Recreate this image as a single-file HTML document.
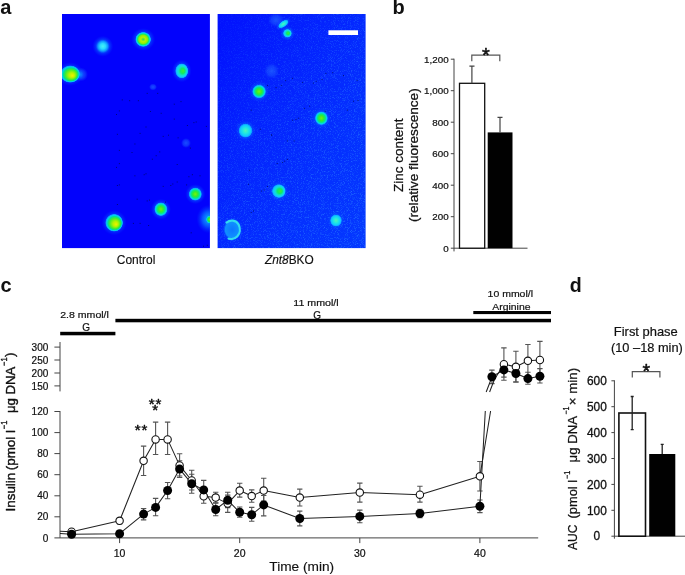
<!DOCTYPE html>
<html><head><meta charset="utf-8"><title>Figure</title>
<style>
html,body{margin:0;padding:0;background:#fff;}
body{width:685px;height:575px;overflow:hidden;}
svg{display:block;}
text{font-family:"Liberation Sans",sans-serif;fill:#111;stroke:#111;stroke-width:0.4px;stroke-linejoin:round;}
</style></head><body>
<svg width="685" height="575" viewBox="0 0 685 575">
<defs>
<radialGradient id="gHalo"><stop offset="0" stop-color="#10a8ff" stop-opacity="0.95"/><stop offset="0.5" stop-color="#0a78ff" stop-opacity="0.7"/><stop offset="1" stop-color="#0040ff" stop-opacity="0"/></radialGradient>
<radialGradient id="gHot"><stop offset="0" stop-color="#38e048"/><stop offset="0.3" stop-color="#b8f400"/><stop offset="0.55" stop-color="#88f008"/><stop offset="0.7" stop-color="#18e860"/><stop offset="0.82" stop-color="#00dce0"/><stop offset="0.92" stop-color="#08a8ff"/><stop offset="1" stop-color="#0870ff" stop-opacity="0"/></radialGradient>
<radialGradient id="gHot2" fx="0.62" fy="0.6"><stop offset="0" stop-color="#f0f000"/><stop offset="0.3" stop-color="#b0f400"/><stop offset="0.58" stop-color="#40ec30"/><stop offset="0.74" stop-color="#00e090"/><stop offset="0.84" stop-color="#00d0f0"/><stop offset="0.93" stop-color="#08a0ff"/><stop offset="1" stop-color="#0870ff" stop-opacity="0"/></radialGradient>
<radialGradient id="gGreen"><stop offset="0" stop-color="#78f010"/><stop offset="0.36" stop-color="#34ec2c"/><stop offset="0.6" stop-color="#08e880"/><stop offset="0.78" stop-color="#00d8e8"/><stop offset="0.9" stop-color="#08a0ff"/><stop offset="1" stop-color="#0870ff" stop-opacity="0"/></radialGradient>
<radialGradient id="gGreenR" fx="0.62" fy="0.5"><stop offset="0" stop-color="#40ec30"/><stop offset="0.35" stop-color="#10e868"/><stop offset="0.6" stop-color="#10e0d0"/><stop offset="0.8" stop-color="#10c8ff"/><stop offset="0.92" stop-color="#08a0ff"/><stop offset="1" stop-color="#0870ff" stop-opacity="0"/></radialGradient>
<radialGradient id="gCyan"><stop offset="0" stop-color="#50f4b8"/><stop offset="0.4" stop-color="#20e8e0"/><stop offset="0.75" stop-color="#10c8ff"/><stop offset="0.9" stop-color="#08a0ff"/><stop offset="1" stop-color="#0870ff" stop-opacity="0"/></radialGradient>
<radialGradient id="gSoft"><stop offset="0" stop-color="#48f0f8"/><stop offset="0.4" stop-color="#28d8ff"/><stop offset="0.7" stop-color="#10a0ff" stop-opacity="0.9"/><stop offset="1" stop-color="#0860ff" stop-opacity="0"/></radialGradient>
<radialGradient id="gRingIn"><stop offset="0" stop-color="#0c78ff"/><stop offset="0.8" stop-color="#1090ff"/><stop offset="1" stop-color="#0c70ff" stop-opacity="0"/></radialGradient>
<radialGradient id="gFaint"><stop offset="0" stop-color="#2060ff" stop-opacity="0.8"/><stop offset="0.6" stop-color="#1850ff" stop-opacity="0.6"/><stop offset="1" stop-color="#1040ff" stop-opacity="0"/></radialGradient>
<filter id="bl" x="-30%" y="-30%" width="160%" height="160%"><feGaussianBlur stdDeviation="0.7"/></filter>
<linearGradient id="bgR" x1="0" y1="0" x2="1" y2="1"><stop offset="0" stop-color="#0210fe"/><stop offset="0.35" stop-color="#0422fe"/><stop offset="0.7" stop-color="#0430ff"/><stop offset="1" stop-color="#0438ff"/></linearGradient>
<filter id="noise" x="0" y="0" width="100%" height="100%"><feTurbulence type="fractalNoise" baseFrequency="1.3" numOctaves="1" seed="7" result="n"/><feColorMatrix in="n" type="matrix" values="0 0 0 0 0.04  0 0 0 0 0.34  0 0 0 0 1  0 1.8 0 0 -0.9"/></filter>
<linearGradient id="mg" x1="0" y1="0" x2="1" y2="1"><stop offset="0" stop-color="#fff" stop-opacity="0.15"/><stop offset="0.5" stop-color="#fff" stop-opacity="0.7"/><stop offset="1" stop-color="#fff" stop-opacity="1"/></linearGradient>
<mask id="mk"><rect x="217.6" y="14" width="148" height="234.1" fill="url(#mg)"/></mask>
<clipPath id="cl"><rect x="62" y="14" width="148" height="234"/></clipPath>
<clipPath id="cr"><rect x="217.6" y="14" width="148" height="234"/></clipPath>
</defs>
<rect x="62" y="14" width="147.9" height="234.1" fill="#0202fc"/>
<rect x="217.6" y="14" width="148" height="234.1" fill="url(#bgR)"/>
<g mask="url(#mk)"><rect x="217.6" y="14" width="148" height="234.1" filter="url(#noise)"/></g>
<g clip-path="url(#cl)">
<ellipse cx="102.8" cy="46.3" rx="10.5" ry="10.5" fill="url(#gHalo)"/>
<ellipse cx="102.8" cy="46.3" rx="7" ry="7" fill="url(#gSoft)"/>
<ellipse cx="143.2" cy="39.4" rx="12.0" ry="11.4" fill="url(#gHalo)"/>
<ellipse cx="143.2" cy="39.4" rx="8" ry="7.6" fill="url(#gHot)"/>
<ellipse cx="81" cy="74.5" rx="7" ry="7" fill="url(#gFaint)"/>
<ellipse cx="80" cy="74.5" rx="4.5" ry="5" fill="url(#gHalo)"/>
<ellipse cx="70.2" cy="74" rx="13.5" ry="11.9" fill="url(#gHalo)"/>
<ellipse cx="70.2" cy="74" rx="10" ry="8.8" fill="url(#gHot2)"/>
<ellipse cx="181.7" cy="70.9" rx="9.9" ry="11.4" fill="url(#gHalo)"/>
<ellipse cx="181.7" cy="70.9" rx="6.6" ry="7.6" fill="url(#gGreenR)"/>
<ellipse cx="195.3" cy="194.1" rx="10.1" ry="10.1" fill="url(#gHalo)"/>
<ellipse cx="195.3" cy="194.1" rx="6.7" ry="6.7" fill="url(#gGreen)"/>
<ellipse cx="160.9" cy="209.2" rx="10.1" ry="10.5" fill="url(#gHalo)"/>
<ellipse cx="160.9" cy="209.2" rx="6.7" ry="7.0" fill="url(#gGreen)"/>
<ellipse cx="114.1" cy="222.7" rx="12.6" ry="12.6" fill="url(#gHalo)"/>
<ellipse cx="114.1" cy="222.7" rx="9.0" ry="9.0" fill="url(#gHot2)"/>
<ellipse cx="208.5" cy="219" rx="12.0" ry="14.2" fill="url(#gHalo)"/>
<ellipse cx="208.5" cy="219" rx="8" ry="9.5" fill="url(#gHalo)"/>
<ellipse cx="209.5" cy="219.5" rx="3.6" ry="4.2" fill="url(#gGreen)"/>
<ellipse cx="153" cy="87" rx="4" ry="3.5" fill="url(#gFaint)"/>
<ellipse cx="186" cy="143" rx="5" ry="5" fill="url(#gFaint)"/>
</g>
<g clip-path="url(#cr)">
<ellipse cx="276" cy="20" rx="8" ry="7" fill="url(#gFaint)"/>
<ellipse cx="271.6" cy="71" rx="7.5" ry="8" fill="url(#gFaint)"/>
<ellipse cx="283.3" cy="24" rx="9.0" ry="4.5" fill="url(#gHalo)" transform="rotate(-35 283.3 24)"/>
<ellipse cx="283.3" cy="24" rx="6" ry="3" fill="url(#gCyan)" transform="rotate(-35 283.3 24)"/>
<ellipse cx="287.4" cy="33.3" rx="7.5" ry="7.5" fill="url(#gHalo)"/>
<ellipse cx="287.4" cy="33.3" rx="4.4" ry="4.4" fill="url(#gGreenR)"/>
<ellipse cx="259.1" cy="91.5" rx="10.5" ry="10.5" fill="url(#gHalo)"/>
<ellipse cx="259.1" cy="91.5" rx="7.0" ry="7.0" fill="url(#gGreen)"/>
<ellipse cx="321.4" cy="118.2" rx="9.9" ry="10.5" fill="url(#gHalo)"/>
<ellipse cx="321.4" cy="118.2" rx="6.6" ry="7.0" fill="url(#gGreen)"/>
<ellipse cx="245.5" cy="130.6" rx="10.5" ry="10.8" fill="url(#gHalo)"/>
<ellipse cx="245.5" cy="130.6" rx="7.0" ry="7.2" fill="url(#gCyan)"/>
<ellipse cx="278.8" cy="191.1" rx="10.2" ry="10.2" fill="url(#gHalo)"/>
<ellipse cx="278.8" cy="191.1" rx="7" ry="7" fill="url(#gGreenR)"/>
<ellipse cx="336" cy="220.5" rx="8.7" ry="9.0" fill="url(#gHalo)"/>
<ellipse cx="336" cy="220.5" rx="6" ry="6.2" fill="url(#gCyan)"/>
<ellipse cx="232.2" cy="229.6" rx="11.2" ry="12.7" fill="url(#gHalo)"/>
<ellipse cx="232.2" cy="229.6" rx="8.6" ry="9.8" fill="url(#gRingIn)"/>
<path d="M226.5 222.6C230 219.6 236 219.8 238.6 224.5C240.6 228.5 240.2 233.5 237.2 236.6C235 238.8 231.5 239.4 228.6 238.6" fill="none" stroke="#30dcf0" stroke-width="2.2" stroke-linecap="round" filter="url(#bl)"/>
</g>
<g fill="#000850" opacity="0.75"><rect x="121.8" y="99.4" width="1" height="1"/><rect x="129.1" y="100.2" width="1" height="1"/><rect x="137.9" y="100.2" width="1" height="1"/><rect x="146.7" y="92.9" width="1" height="1"/><rect x="157.2" y="92.9" width="1" height="1"/><rect x="118.9" y="110.4" width="1" height="1"/><rect x="116.0" y="114.0" width="1" height="1"/><rect x="149.9" y="111.0" width="1" height="1"/><rect x="160.7" y="112.8" width="1" height="1"/><rect x="173.8" y="103.7" width="1" height="1"/><rect x="180.5" y="101.1" width="1" height="1"/><rect x="173.8" y="118.6" width="1" height="1"/><rect x="145.5" y="126.5" width="1" height="1"/><rect x="116.9" y="133.8" width="1" height="1"/><rect x="139.6" y="132.9" width="1" height="1"/><rect x="162.7" y="135.9" width="1" height="1"/><rect x="168.0" y="134.7" width="1" height="1"/><rect x="177.6" y="137.3" width="1" height="1"/><rect x="186.9" y="125.0" width="1" height="1"/><rect x="193.4" y="122.1" width="1" height="1"/><rect x="195.7" y="121.5" width="1" height="1"/><rect x="205.9" y="125.9" width="1" height="1"/><rect x="134.4" y="143.5" width="1" height="1"/><rect x="118.9" y="149.9" width="1" height="1"/><rect x="131.5" y="152.0" width="1" height="1"/><rect x="159.2" y="151.4" width="1" height="1"/><rect x="155.7" y="155.2" width="1" height="1"/><rect x="151.9" y="158.7" width="1" height="1"/><rect x="189.9" y="147.6" width="1" height="1"/><rect x="176.7" y="164.0" width="1" height="1"/><rect x="118.9" y="163.1" width="1" height="1"/><rect x="116.0" y="166.9" width="1" height="1"/><rect x="134.4" y="175.3" width="1" height="1"/><rect x="143.7" y="174.2" width="1" height="1"/><rect x="145.5" y="173.3" width="1" height="1"/><rect x="188.4" y="176.2" width="1" height="1"/><rect x="191.9" y="174.2" width="1" height="1"/><rect x="199.5" y="175.3" width="1" height="1"/><rect x="116.9" y="185.0" width="1" height="1"/><rect x="118.9" y="184.4" width="1" height="1"/><rect x="162.7" y="185.9" width="1" height="1"/><rect x="170.3" y="185.0" width="1" height="1"/><rect x="172.3" y="183.5" width="1" height="1"/><rect x="176.7" y="181.5" width="1" height="1"/><rect x="186.1" y="184.4" width="1" height="1"/><rect x="116.9" y="204.0" width="1" height="1"/><rect x="136.7" y="198.7" width="1" height="1"/><rect x="146.7" y="200.4" width="1" height="1"/><rect x="149.0" y="199.6" width="1" height="1"/><rect x="165.0" y="201.6" width="1" height="1"/><rect x="132.9" y="222.9" width="1" height="1"/><rect x="139.6" y="222.9" width="1" height="1"/><rect x="148.1" y="225.0" width="1" height="1"/><rect x="190.7" y="232.3" width="1" height="1"/><rect x="203.0" y="245.7" width="1" height="1"/><rect x="206.8" y="244.8" width="1" height="1"/><rect x="267.0" y="84.9" width="1" height="1"/><rect x="275.6" y="87.1" width="1" height="1"/><rect x="280.8" y="84.9" width="1" height="1"/><rect x="285.1" y="80.1" width="1" height="1"/><rect x="291.9" y="77.8" width="1" height="1"/><rect x="302.1" y="81.9" width="1" height="1"/><rect x="312.9" y="82.6" width="1" height="1"/><rect x="315.7" y="80.8" width="1" height="1"/><rect x="321.5" y="79.0" width="1" height="1"/><rect x="325.4" y="72.9" width="1" height="1"/><rect x="332.2" y="72.2" width="1" height="1"/><rect x="343.0" y="75.1" width="1" height="1"/><rect x="356.6" y="80.1" width="1" height="1"/><rect x="250.7" y="109.7" width="1" height="1"/><rect x="259.8" y="128.8" width="1" height="1"/><rect x="271.1" y="134.6" width="1" height="1"/><rect x="292.1" y="119.7" width="1" height="1"/><rect x="295.5" y="118.8" width="1" height="1"/><rect x="298.2" y="117.7" width="1" height="1"/><rect x="303.9" y="107.9" width="1" height="1"/><rect x="309.1" y="105.7" width="1" height="1"/><rect x="324.7" y="110.7" width="1" height="1"/><rect x="346.9" y="109.7" width="1" height="1"/><rect x="353.0" y="100.7" width="1" height="1"/><rect x="357.5" y="100.0" width="1" height="1"/><rect x="271.1" y="134.5" width="1" height="1"/><rect x="286.9" y="140.4" width="1" height="1"/><rect x="293.7" y="140.4" width="1" height="1"/><rect x="276.7" y="163.0" width="1" height="1"/><rect x="281.9" y="161.9" width="1" height="1"/><rect x="284.2" y="160.7" width="1" height="1"/><rect x="286.9" y="158.9" width="1" height="1"/><rect x="248.9" y="169.8" width="1" height="1"/><rect x="248.0" y="183.8" width="1" height="1"/><rect x="260.9" y="190.6" width="1" height="1"/><rect x="263.8" y="189.5" width="1" height="1"/><rect x="267.0" y="186.1" width="1" height="1"/><rect x="250.7" y="212.1" width="1" height="1"/><rect x="253.0" y="210.5" width="1" height="1"/></g>
<rect x="328.4" y="30.3" width="29.6" height="4.7" fill="#fff"/>
<g id="ink" opacity="0.999">
<text x="116.8" y="263.6" font-size="12" text-anchor="start" textLength="38.6" lengthAdjust="spacingAndGlyphs" style="stroke-width:0.15px">Control</text>
<text x="264.9" y="263.6" font-size="12.3" text-anchor="start" textLength="48.8" lengthAdjust="spacingAndGlyphs" style="stroke-width:0.15px"><tspan font-style="italic">Znt8</tspan>BKO</text>
<text x="0.2" y="14.3" font-size="20" text-anchor="start" font-weight="bold" fill="#000" style="stroke:none">a</text>
<text x="392.6" y="14.1" font-size="20" text-anchor="start" font-weight="bold" fill="#000" style="stroke:none">b</text>
<text x="0.4" y="292.2" font-size="20" text-anchor="start" font-weight="bold" fill="#000" style="stroke:none">c</text>
<text x="569.7" y="292.1" font-size="19.6" text-anchor="start" font-weight="bold" fill="#000" style="stroke:none">d</text>
<g stroke="#444" stroke-width="1.0" fill="none">
<path d="M454.0 58.7V251.39999999999998"/>
<path d="M450.8 248.2H527.5"/>
<path d="M450.8 216.7H454.0"/>
<path d="M450.8 185.2H454.0"/>
<path d="M450.8 153.7H454.0"/>
<path d="M450.8 122.2H454.0"/>
<path d="M450.8 90.7H454.0"/>
<path d="M450.8 59.2H454.0"/>
</g>
<text x="448.6" y="251.7" font-size="9.8" text-anchor="end" style="stroke-width:0.22px">0</text>
<text x="448.6" y="220.2" font-size="9.8" text-anchor="end" style="stroke-width:0.22px">200</text>
<text x="448.6" y="188.7" font-size="9.8" text-anchor="end" style="stroke-width:0.22px">400</text>
<text x="448.6" y="157.2" font-size="9.8" text-anchor="end" style="stroke-width:0.22px">600</text>
<text x="448.6" y="125.7" font-size="9.8" text-anchor="end" style="stroke-width:0.22px">800</text>
<text x="448.6" y="94.2" font-size="9.8" text-anchor="end" style="stroke-width:0.22px">1,000</text>
<text x="448.6" y="62.7" font-size="9.8" text-anchor="end" style="stroke-width:0.22px">1,200</text>
<rect x="459.5" y="83.3" width="25.2" height="164.9" fill="#fff" stroke="#111" stroke-width="1.3"/>
<rect x="487.7" y="132.4" width="24.8" height="115.8" fill="#000"/>
<path d="M471.9 83.3V66.1M469.4 66.1H474.5" stroke="#444" stroke-width="1.2" fill="none"/>
<path d="M500 132.4V117.3M497.5 117.3H502.5" stroke="#444" stroke-width="1.2" fill="none"/>
<path d="M471.8 61.2V55.1H499.8V61.2" stroke="#555" stroke-width="1.2" fill="none"/>
<text x="485.9" y="61.5" font-size="20" text-anchor="middle" fill="#000" style="stroke:#000;stroke-width:0.45px">*</text>
<text transform="translate(403.3,192) rotate(-90)" font-size="13" textLength="73.4" lengthAdjust="spacingAndGlyphs" style="stroke-width:0.25px">Zinc content</text>
<text transform="translate(417.6,222) rotate(-90)" font-size="13" textLength="133.7" lengthAdjust="spacingAndGlyphs" style="stroke-width:0.25px">(relative fluorescence)</text>
<g stroke="#444" stroke-width="1.0" fill="none">
<path d="M60.0 411.0V537.9"/>
<path d="M54.4 537.9H538.2"/>
<path d="M54.4 516.8H60.0"/>
<path d="M54.4 495.8H60.0"/>
<path d="M54.4 474.7H60.0"/>
<path d="M54.4 453.6H60.0"/>
<path d="M54.4 432.6H60.0"/>
<path d="M54.4 411.5H60.0"/>
<path d="M119.6 537.9V543.1"/>
<path d="M239.7 537.9V543.1"/>
<path d="M359.8 537.9V543.1"/>
<path d="M479.9 537.9V543.1"/>
<path d="M60.0 342V391.4"/>
<path d="M54.4 385.9H60.0"/>
<path d="M54.4 373.0H60.0"/>
<path d="M54.4 360.0H60.0"/>
<path d="M54.4 347.1H60.0"/>
</g>
<text x="48.3" y="541.5" font-size="10" text-anchor="end" style="stroke-width:0.22px">0</text>
<text x="48.3" y="520.4" font-size="10" text-anchor="end" style="stroke-width:0.22px">20</text>
<text x="48.3" y="499.4" font-size="10" text-anchor="end" style="stroke-width:0.22px">40</text>
<text x="48.3" y="478.3" font-size="10" text-anchor="end" style="stroke-width:0.22px">60</text>
<text x="48.3" y="457.2" font-size="10" text-anchor="end" style="stroke-width:0.22px">80</text>
<text x="48.3" y="436.2" font-size="10" text-anchor="end" style="stroke-width:0.22px">100</text>
<text x="48.3" y="415.1" font-size="10" text-anchor="end" style="stroke-width:0.22px">120</text>
<text x="48.3" y="389.5" font-size="10" text-anchor="end" style="stroke-width:0.22px">150</text>
<text x="48.3" y="376.6" font-size="10" text-anchor="end" style="stroke-width:0.22px">200</text>
<text x="48.3" y="363.6" font-size="10" text-anchor="end" style="stroke-width:0.22px">250</text>
<text x="48.3" y="350.7" font-size="10" text-anchor="end" style="stroke-width:0.22px">300</text>
<text x="119.6" y="557" font-size="10.5" text-anchor="middle" style="stroke-width:0.22px">10</text>
<text x="239.7" y="557" font-size="10.5" text-anchor="middle" style="stroke-width:0.22px">20</text>
<text x="359.8" y="557" font-size="10.5" text-anchor="middle" style="stroke-width:0.22px">30</text>
<text x="479.9" y="557" font-size="10.5" text-anchor="middle" style="stroke-width:0.22px">40</text>
<text x="269.3" y="570.8" font-size="13.5" text-anchor="start" textLength="64.8" lengthAdjust="spacingAndGlyphs" style="stroke-width:0.15px">Time (min)</text>
<text transform="translate(15.2,511.4) rotate(-90)" font-size="13.5" textLength="38.6" lengthAdjust="spacingAndGlyphs">Insulin</text>
<text transform="translate(15.2,470.2) rotate(-90)" font-size="13.5" textLength="40.2" lengthAdjust="spacingAndGlyphs">(pmol l</text>
<text transform="translate(7.2,429.2) rotate(-90)" font-size="9" textLength="8.6" lengthAdjust="spacingAndGlyphs">−1</text>
<text transform="translate(15.2,413) rotate(-90)" font-size="13.5" textLength="46.4" lengthAdjust="spacingAndGlyphs">μg DNA</text>
<text transform="translate(7.0,366.0) rotate(-90)" font-size="9" textLength="8.6" lengthAdjust="spacingAndGlyphs">−1</text>
<text transform="translate(14.2,357.0) rotate(-90)" font-size="13.5">)</text>
<rect x="60.2" y="331.8" width="55.2" height="3.5" fill="#000"/>
<rect x="115.4" y="318.8" width="435.6" height="3.5" fill="#000"/>
<rect x="473.3" y="311" width="77.7" height="3.1" fill="#000"/>
<text x="60.2" y="317.9" font-size="9.8" text-anchor="start" textLength="48.7" lengthAdjust="spacingAndGlyphs" style="stroke-width:0.2px">2.8 mmol/l</text>
<text x="86.1" y="330.8" font-size="10" text-anchor="middle" style="stroke-width:0.2px">G</text>
<text x="293.3" y="306" font-size="9.8" text-anchor="start" textLength="45.4" lengthAdjust="spacingAndGlyphs" style="stroke-width:0.2px">11 mmol/l</text>
<text x="317.1" y="318.7" font-size="10" text-anchor="middle" style="stroke-width:0.2px">G</text>
<text x="487.6" y="296.8" font-size="9.8" text-anchor="start" textLength="45.4" lengthAdjust="spacingAndGlyphs" style="stroke-width:0.2px">10 mmol/l</text>
<text x="492.3" y="309.6" font-size="9.8" text-anchor="start" textLength="38.2" lengthAdjust="spacingAndGlyphs" style="stroke-width:0.2px">Arginine</text>
<g stroke="#555" stroke-width="1.1" fill="none">
<path d="M71.6 529.6V533.8M68.9 529.6H74.3M68.9 533.8H74.3"/>
<path d="M71.6 532.7V535.9M68.9 532.7H74.3M68.9 535.9H74.3"/>
<path d="M119.6 517.7V524.0M116.9 517.7H122.3M116.9 524.0H122.3"/>
<path d="M119.6 532.1V535.3M116.9 532.1H122.3M116.9 535.3H122.3"/>
<path d="M143.6 446.1V475.5M140.9 446.1H146.3M140.9 475.5H146.3"/>
<path d="M143.6 508.5V519.9M140.9 508.5H146.3M140.9 519.9H146.3"/>
<path d="M155.6 422.1V454.5M152.9 422.1H158.3M152.9 454.5H158.3"/>
<path d="M155.6 498.4V515.8M152.9 498.4H158.3M152.9 515.8H158.3"/>
<path d="M167.6 422.1V454.5M164.9 422.1H170.3M164.9 454.5H170.3"/>
<path d="M167.6 482.5V498.7M164.9 482.5H170.3M164.9 498.7H170.3"/>
<path d="M179.6 453.8V476.0M176.9 453.8H182.3M176.9 476.0H182.3"/>
<path d="M179.6 460.7V477.5M176.9 460.7H182.3M176.9 477.5H182.3"/>
<path d="M191.7 470.3V490.0M189.0 470.3H194.4M189.0 490.0H194.4"/>
<path d="M191.7 474.2V493.3M189.0 474.2H194.4M189.0 493.3H194.4"/>
<path d="M203.7 488.9V503.2M201.0 488.9H206.4M201.0 503.2H206.4"/>
<path d="M203.7 480.4V498.3M201.0 480.4H206.4M201.0 498.3H206.4"/>
<path d="M215.7 492.3V502.8M213.0 492.3H218.4M213.0 502.8H218.4"/>
<path d="M215.7 503.1V515.8M213.0 503.1H218.4M213.0 515.8H218.4"/>
<path d="M227.7 495.1V512.4M225.0 495.1H230.4M225.0 512.4H230.4"/>
<path d="M227.7 492.2V507.6M225.0 492.2H230.4M225.0 507.6H230.4"/>
<path d="M239.7 483.2V497.1M237.0 483.2H242.4M237.0 497.1H242.4"/>
<path d="M239.7 507.0V517.3M237.0 507.0H242.4M237.0 517.3H242.4"/>
<path d="M251.7 489.9V502.3M249.0 489.9H254.4M249.0 502.3H254.4"/>
<path d="M251.7 507.4V521.3M249.0 507.4H254.4M249.0 521.3H254.4"/>
<path d="M263.7 478.2V501.1M261.0 478.2H266.4M261.0 501.1H266.4"/>
<path d="M263.7 495.5V515.9M261.0 495.5H266.4M261.0 515.9H266.4"/>
<path d="M299.8 489.1V506.0M297.1 489.1H302.4M297.1 506.0H302.4"/>
<path d="M299.8 511.1V525.9M297.1 511.1H302.4M297.1 525.9H302.4"/>
<path d="M359.8 483.1V502.1M357.1 483.1H362.5M357.1 502.1H362.5"/>
<path d="M359.8 510.1V522.7M357.1 510.1H362.5M357.1 522.7H362.5"/>
<path d="M419.9 486.3V502.1M417.2 486.3H422.6M417.2 502.1H422.6"/>
<path d="M419.9 509.3V517.7M417.2 509.3H422.6M417.2 517.7H422.6"/>
<path d="M479.9 461.5V491.0M477.2 461.5H482.6M477.2 491.0H482.6"/>
<path d="M479.9 500.0V512.6M477.2 500.0H482.6M477.2 512.6H482.6"/>
<path d="M491.9 370.1V383.6M489.2 370.1H494.6M489.2 383.6H494.6"/>
<path d="M503.9 347.9V380.2M501.2 347.9H506.6M501.2 380.2H506.6"/>
<path d="M503.9 362.1V377.1M501.2 362.1H506.6M501.2 377.1H506.6"/>
<path d="M515.9 351.2V382.3M513.2 351.2H518.6M513.2 382.3H518.6"/>
<path d="M515.9 365.2V381.8M513.2 365.2H518.6M513.2 381.8H518.6"/>
<path d="M527.9 344.5V377.6M525.2 344.5H530.6M525.2 377.6H530.6"/>
<path d="M527.9 372.2V384.3M525.2 372.2H530.6M525.2 384.3H530.6"/>
<path d="M539.9 341.4V379.4M537.2 341.4H542.6M537.2 379.4H542.6"/>
<path d="M539.9 368.6V383.0M537.2 368.6H542.6M537.2 383.0H542.6"/>
</g>
<g stroke="#222" stroke-width="1.05" fill="none" stroke-linejoin="round">
<polyline points="60.0,531.2 71.6,531.7 119.6,520.8 143.6,460.8 155.6,439.4 167.6,439.4 179.6,465.4 191.7,480.5 203.7,496.3 215.7,497.6 227.7,503.6 239.7,490.6 251.7,496.1 263.7,490.6 299.8,497.6 359.8,492.6 419.9,494.7 479.9,476.3 490.6,411"/>
<polyline points="60.0,533.5 71.6,534.3 119.6,533.7 143.6,514.1 155.6,507.4 167.6,490.5 179.6,469.1 191.7,483.7 203.7,489.9 215.7,509.5 227.7,500.2 239.7,512.3 251.7,514.7 263.7,504.9 299.8,518.5 359.8,516.4 419.9,513.5 479.9,506.3 485.3,411"/>
<polyline points="489.6,392 494.4,379.5 503.9,364.2 515.9,366.8 527.9,360.8 539.9,360.0"/>
<polyline points="486.2,392 491,379.5 491.9,376.8 503.9,369.9 515.9,373.5 527.9,378.6 539.9,376.3"/>
</g>
<circle cx="71.6" cy="531.7" r="3.7" fill="#fff" stroke="#111" stroke-width="1.1"/>
<circle cx="119.6" cy="520.8" r="3.7" fill="#fff" stroke="#111" stroke-width="1.1"/>
<circle cx="143.6" cy="460.8" r="3.7" fill="#fff" stroke="#111" stroke-width="1.1"/>
<circle cx="155.6" cy="439.4" r="3.7" fill="#fff" stroke="#111" stroke-width="1.1"/>
<circle cx="167.6" cy="439.4" r="3.7" fill="#fff" stroke="#111" stroke-width="1.1"/>
<circle cx="179.6" cy="465.4" r="3.7" fill="#fff" stroke="#111" stroke-width="1.1"/>
<circle cx="191.7" cy="480.5" r="3.7" fill="#fff" stroke="#111" stroke-width="1.1"/>
<circle cx="203.7" cy="496.3" r="3.7" fill="#fff" stroke="#111" stroke-width="1.1"/>
<circle cx="215.7" cy="497.6" r="3.7" fill="#fff" stroke="#111" stroke-width="1.1"/>
<circle cx="227.7" cy="503.6" r="3.7" fill="#fff" stroke="#111" stroke-width="1.1"/>
<circle cx="239.7" cy="490.6" r="3.7" fill="#fff" stroke="#111" stroke-width="1.1"/>
<circle cx="251.7" cy="496.1" r="3.7" fill="#fff" stroke="#111" stroke-width="1.1"/>
<circle cx="263.7" cy="490.6" r="3.7" fill="#fff" stroke="#111" stroke-width="1.1"/>
<circle cx="299.8" cy="497.6" r="3.7" fill="#fff" stroke="#111" stroke-width="1.1"/>
<circle cx="359.8" cy="492.6" r="3.7" fill="#fff" stroke="#111" stroke-width="1.1"/>
<circle cx="419.9" cy="494.7" r="3.7" fill="#fff" stroke="#111" stroke-width="1.1"/>
<circle cx="479.9" cy="476.3" r="3.7" fill="#fff" stroke="#111" stroke-width="1.1"/>
<circle cx="71.6" cy="534.3" r="4.5" fill="#000"/>
<circle cx="119.6" cy="533.7" r="4.5" fill="#000"/>
<circle cx="143.6" cy="514.1" r="4.5" fill="#000"/>
<circle cx="155.6" cy="507.4" r="4.5" fill="#000"/>
<circle cx="167.6" cy="490.5" r="4.5" fill="#000"/>
<circle cx="179.6" cy="469.1" r="4.5" fill="#000"/>
<circle cx="191.7" cy="483.7" r="4.5" fill="#000"/>
<circle cx="203.7" cy="489.9" r="4.5" fill="#000"/>
<circle cx="215.7" cy="509.5" r="4.5" fill="#000"/>
<circle cx="227.7" cy="500.2" r="4.5" fill="#000"/>
<circle cx="239.7" cy="512.3" r="4.5" fill="#000"/>
<circle cx="251.7" cy="514.7" r="4.5" fill="#000"/>
<circle cx="263.7" cy="504.9" r="4.5" fill="#000"/>
<circle cx="299.8" cy="518.5" r="4.5" fill="#000"/>
<circle cx="359.8" cy="516.4" r="4.5" fill="#000"/>
<circle cx="419.9" cy="513.5" r="4.5" fill="#000"/>
<circle cx="479.9" cy="506.3" r="4.5" fill="#000"/>
<circle cx="503.9" cy="364.2" r="3.7" fill="#fff" stroke="#111" stroke-width="1.1"/>
<circle cx="515.9" cy="366.8" r="3.7" fill="#fff" stroke="#111" stroke-width="1.1"/>
<circle cx="527.9" cy="360.8" r="3.7" fill="#fff" stroke="#111" stroke-width="1.1"/>
<circle cx="539.9" cy="360.0" r="3.7" fill="#fff" stroke="#111" stroke-width="1.1"/>
<circle cx="491.9" cy="376.8" r="4.5" fill="#000"/>
<circle cx="503.9" cy="369.9" r="4.5" fill="#000"/>
<circle cx="515.9" cy="373.5" r="4.5" fill="#000"/>
<circle cx="527.9" cy="378.6" r="4.5" fill="#000"/>
<circle cx="539.9" cy="376.3" r="4.5" fill="#000"/>
<text x="141.5" y="434.6" font-size="15" text-anchor="middle" fill="#000" style="stroke:#000;stroke-width:0.45px" letter-spacing="0.9">**</text>
<text x="155.5" y="409.3" font-size="15" text-anchor="middle" fill="#000" style="stroke:#000;stroke-width:0.45px" letter-spacing="0.9">**</text>
<text x="155.2" y="415.3" font-size="15" text-anchor="middle" fill="#000" style="stroke:#000;stroke-width:0.45px">*</text>
<g stroke="#444" stroke-width="1.0" fill="none">
<path d="M614.4 380.3V538.7"/>
<path d="M611.4 536.2H685"/>
<path d="M611.4 510.3H614.4"/>
<path d="M611.4 484.4H614.4"/>
<path d="M611.4 458.5H614.4"/>
<path d="M611.4 432.6H614.4"/>
<path d="M611.4 406.7H614.4"/>
<path d="M611.4 380.8H614.4"/>
</g>
<text x="596.9" y="540.4" font-size="11.9" text-anchor="middle" style="stroke-width:0.3px">0</text>
<text x="596.9" y="514.5" font-size="11.9" text-anchor="middle" style="stroke-width:0.3px">100</text>
<text x="596.9" y="488.6" font-size="11.9" text-anchor="middle" style="stroke-width:0.3px">200</text>
<text x="596.9" y="462.7" font-size="11.9" text-anchor="middle" style="stroke-width:0.3px">300</text>
<text x="596.9" y="436.8" font-size="11.9" text-anchor="middle" style="stroke-width:0.3px">400</text>
<text x="596.9" y="410.9" font-size="11.9" text-anchor="middle" style="stroke-width:0.3px">500</text>
<text x="596.9" y="385.0" font-size="11.9" text-anchor="middle" style="stroke-width:0.3px">600</text>
<rect x="618.9" y="413" width="26.6" height="123.2" fill="#fff" stroke="#111" stroke-width="1.6"/>
<rect x="649.2" y="454" width="26.1" height="82.2" fill="#000"/>
<path d="M632.2 396.5V429.6M630.7 396.5H633.7M630.7 429.6H633.7" stroke="#222" stroke-width="1.3" fill="none"/>
<path d="M662.2 444.4V454M660.7 444.4H663.7" stroke="#222" stroke-width="1.3" fill="none"/>
<path d="M632.3 377.4V371.7H659.9V377.4" stroke="#555" stroke-width="1.2" fill="none"/>
<text x="646.4" y="378.3" font-size="19.5" text-anchor="middle" fill="#000" style="stroke:#000;stroke-width:0.45px">*</text>
<text x="613.8" y="336.1" font-size="12.4" text-anchor="start" textLength="64.0" lengthAdjust="spacingAndGlyphs" style="stroke-width:0.2px">First phase</text>
<text x="611.0" y="351.5" font-size="12.4" text-anchor="start" textLength="71.8" lengthAdjust="spacingAndGlyphs" style="stroke-width:0.2px">(10 –18 min)</text>
<text transform="translate(577.3,550) rotate(-90)" font-size="12.6" textLength="25.5" lengthAdjust="spacingAndGlyphs" style="stroke-width:0.25px">AUC</text>
<text transform="translate(577.3,518.4) rotate(-90)" font-size="12.6" textLength="38.4" lengthAdjust="spacingAndGlyphs" style="stroke-width:0.25px">(pmol l</text>
<text transform="translate(569.6,478.9) rotate(-90)" font-size="9" textLength="8.2" lengthAdjust="spacingAndGlyphs" style="stroke-width:0.25px">−1</text>
<text transform="translate(577.3,462.4) rotate(-90)" font-size="12.6" textLength="46.4" lengthAdjust="spacingAndGlyphs" style="stroke-width:0.25px">μg DNA</text>
<text transform="translate(569.0,414.5) rotate(-90)" font-size="9" textLength="8.0" lengthAdjust="spacingAndGlyphs" style="stroke-width:0.25px">−1</text>
<text transform="translate(577.3,405.2) rotate(-90)" font-size="12.6" textLength="37.3" lengthAdjust="spacingAndGlyphs" style="stroke-width:0.25px">× min)</text>
</g>
</svg>
</body></html>
